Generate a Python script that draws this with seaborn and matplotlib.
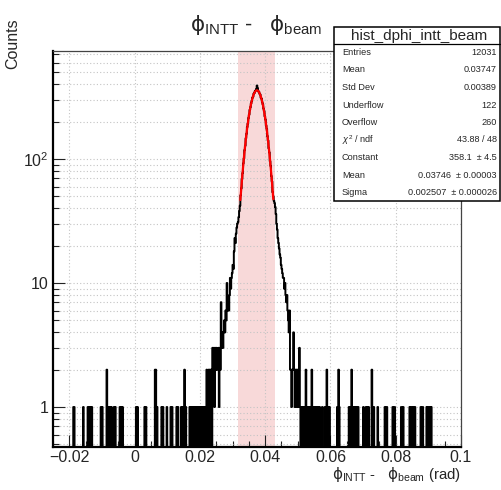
import numpy as np
import pandas as pd
import matplotlib
matplotlib.use("Agg")
import matplotlib.pyplot as plt
import seaborn as sns
from matplotlib.ticker import FixedLocator, FixedFormatter, LogLocator, NullFormatter, MultipleLocator
from matplotlib.patches import Rectangle
from matplotlib.lines import Line2D

# ---------------- data ----------------
bin_lo, bin_hi, n_bins = -0.025, 0.1, 625
core_first_center = 0.0235          # centre of first bin of the core block
core_counts = [
    2, 0, 3, 2, 3, 1, 3, 2, 3, 2,
    2, 3, 1, 3, 2, 7, 3, 4, 3, 4,
    5, 4, 6, 5, 10, 6, 7, 6, 8, 11,
    9, 11, 12, 14, 13, 18, 23, 21, 25, 28,
    30, 31, 34, 38, 42, 51, 58, 69, 77, 92,
    101, 118, 128, 147, 160, 181, 193, 214, 228, 249,
    262, 281, 293, 311, 318, 336, 340, 352, 357, 366,
    391,
    372, 351, 349, 336, 331, 312, 306, 287, 276, 255,
    243, 221, 208, 186, 175, 153, 141, 122, 113, 96,
    88, 73, 66, 54, 50, 46, 44, 41, 36, 30,
    27, 23, 21, 19, 17, 16, 14, 13, 12, 11,
    11, 9, 10, 8, 7, 8, 6, 5, 4, 6,
    2, 2, 1, 2, 2, 4, 2, 1, 2, 2,
    1, 2, 2, 1, 3, 1, 0, 1, 0, 1,
]
left_tail_x = [-0.0187, -0.0185, -0.0157, -0.0143, -0.0139, -0.0135, -0.0131,
               -0.0103, -0.0099, -0.0085, -0.0081, -0.0075, -0.0071, -0.0063, -0.0059,
               -0.0045, -0.0041, -0.0037, 0.0005, 0.0009, 0.0031, 0.0035,
               0.0063, 0.0065, 0.0069, 0.0083, 0.0087, 0.0099, 0.0111, 0.0115,
               0.0129, 0.0133, 0.0143, 0.0147, 0.0153, 0.0157,
               0.0169, 0.0173, 0.0177, 0.0181, 0.0185, 0.0189, 0.0193, 0.0197,
               0.0201, 0.0205, 0.0209, 0.0213, 0.0217, 0.0221, 0.0223, 0.0227,
               0.0231, 0.0233]
left_tail_n = [1, 1, 1, 1, 1, 1, 1,
               1, 1, 2, 1, 1, 1, 1, 1,
               1, 1, 1, 1, 1, 1, 1,
               2, 2, 1, 1, 1, 1, 1, 1,
               1, 1, 1, 1, 2, 1,
               1, 1, 1, 1, 1, 1, 1, 1,
               1, 1, 1, 1, 1, 2, 1, 2,
               2, 1]
right_tail_x = [0.0521, 0.0525, 0.0529, 0.0533, 0.0537, 0.0541, 0.0543, 0.0547,
                0.0551, 0.0555, 0.0559, 0.0563, 0.0567, 0.0575, 0.0583, 0.0589,
                0.0593, 0.0597, 0.0621, 0.0625, 0.0627, 0.0657, 0.0661, 0.0665,
                0.0669, 0.0673, 0.0677, 0.0681, 0.0685, 0.0701, 0.0709, 0.0713,
                0.0717, 0.0727, 0.0733, 0.0745, 0.0767, 0.0773, 0.0791, 0.0797,
                0.0817, 0.0823, 0.0843, 0.0847, 0.0853, 0.0859, 0.0877, 0.0883,
                0.0895, 0.0899, 0.0905, 0.0909]
right_tail_n = [1, 2, 1, 1, 1, 1, 2, 1,
                1, 1, 1, 1, 1, 1, 1, 2,
                1, 1, 1, 2, 1, 1, 1, 2,
                1, 1, 1, 1, 1, 1, 1, 1,
                1, 2, 1, 1, 1, 1, 1, 1,
                1, 1, 1, 1, 1, 1, 1, 1,
                1, 1, 1, 1]

fit_constant, fit_mean, fit_sigma = 358.1, 0.03746, 0.002507
fit_range = (0.0324, 0.0425)
band = (0.0316, 0.0431)

x_ticks = [-0.02, 0, 0.02, 0.04, 0.06, 0.08, 0.1]
x_tick_labels = ["\u22120.02", "0", "0.02", "0.04", "0.06", "0.08", "0.1"]
y_ticks = [1, 10, 100]
y_tick_labels = ["1", "10", r"$10^{2}$"]

stats_title = "hist_dphi_intt_beam"
stats_labels = ["Entries", "Mean", "Std Dev", "Underflow", "Overflow",
                r"$\chi^{2}$ / ndf", "Constant", "Mean", "Sigma"]
stats_values = ["12031", "0.03747", "0.00389", "122", "260", "43.88 / 48",
                "358.1  \u00b1 4.5", "0.03746  \u00b1 0.00003", "0.002507  \u00b1 0.000026"]

title_text = r"$\mathsf{ϕ}_{\mathrm{INTT}}$ -   $\mathsf{ϕ}_{\mathrm{beam}}$"
xlabel_text = r"$\mathsf{ϕ}_{\mathrm{INTT}}$ -   $\mathsf{ϕ}_{\mathrm{beam}}$ (rad)"
ylabel_text = "Counts"

# ---------------- build histogram ----------------
edges = np.linspace(bin_lo, bin_hi, n_bins + 1)
bw = (bin_hi - bin_lo) / n_bins
centers = 0.5 * (edges[:-1] + edges[1:])
counts = np.zeros(n_bins)
i0 = int(round((core_first_center - bin_lo) / bw - 0.5))
counts[i0:i0 + len(core_counts)] = core_counts
for xs, ns in ((left_tail_x, left_tail_n), (right_tail_x, right_tail_n)):
    for xv, nv in zip(xs, ns):
        counts[int(round((xv - bin_lo) / bw - 0.5))] = nv

df = pd.DataFrame({"x": centers, "w": counts})
fx = np.linspace(fit_range[0], fit_range[1], 200)
fy = fit_constant * np.exp(-0.5 * ((fx - fit_mean) / fit_sigma) ** 2)
dfit = pd.DataFrame({"x": fx, "y": fy})

# ---------------- style ----------------
sns.set_style("white")
plt.rcParams["font.family"] = ["Liberation Sans", "DejaVu Sans"]
plt.rcParams["mathtext.fontset"] = "custom"
plt.rcParams["mathtext.rm"] = "Liberation Sans"
plt.rcParams["mathtext.it"] = "Liberation Sans:italic"
plt.rcParams["mathtext.bf"] = "Liberation Sans:bold"
plt.rcParams["mathtext.sf"] = "DejaVu Sans"
plt.rcParams["mathtext.fallback"] = "stixsans"

W, H = 502, 490
def fxp(px): return px / W
def fyp(py): return 1 - py / H

fig = plt.figure(figsize=(W / 100, H / 100), dpi=100)
ax = fig.add_axes([fxp(53), fyp(447), (461 - 53) / W, (447 - 51) / H])

ax.axvspan(band[0], band[1], color="#f8d9d9", lw=0, zorder=0)
sns.histplot(data=df, x="x", weights="w", bins=edges.tolist(), element="step", fill=False,
             color="black", linewidth=1.4, ax=ax, zorder=3)
ax.set_yscale("log")
sns.lineplot(data=dfit, x="x", y="y", color="red", linewidth=1.6, ax=ax,
             zorder=4, sort=False, estimator=None)

ax.set_xlim(bin_lo, bin_hi)
ax.set_ylim(0.476, 743)
ax.set_xlabel("")
ax.set_ylabel("")
ax.set_axisbelow(True)

ax.xaxis.set_major_locator(FixedLocator(x_ticks))
ax.xaxis.set_major_formatter(FixedFormatter(x_tick_labels))
ax.xaxis.set_minor_locator(MultipleLocator(0.005))
ax.yaxis.set_major_locator(FixedLocator(y_ticks))
ax.yaxis.set_major_formatter(FixedFormatter(y_tick_labels))
ax.yaxis.set_minor_locator(LogLocator(base=10, subs=np.arange(2, 10), numticks=20))
ax.yaxis.set_minor_formatter(NullFormatter())

ax.tick_params(which="major", direction="in", length=8.5, width=0.8, labelsize=11.5,
               pad=3, color="#222222", bottom=True, left=True, top=False, right=False)
ax.tick_params(axis="x", which="major", pad=2)
ax.tick_params(which="minor", direction="in", length=4.2, width=0.8, color="#222222",
               bottom=True, left=True, top=False, right=False)

grid_kw = dict(color="#c4c4c4", linestyle=(0, (1, 2)), linewidth=0.8)
ax.grid(True, which="major", axis="x", **grid_kw)
ax.grid(True, which="both", axis="y", **grid_kw)

for s in ("left", "bottom"):
    ax.spines[s].set_linewidth(1.6)
    ax.spines[s].set_color("black")
for s in ("top", "right"):
    ax.spines[s].set_linewidth(0.9)
    ax.spines[s].set_color("#444444")

# titles
fig.text(fxp(256), fyp(31), title_text, ha="center", va="baseline", fontsize=15.5)
fig.text(fxp(461), fyp(479), xlabel_text, ha="right", va="baseline", fontsize=10.8)
fig.text(fxp(13), fyp(18), ylabel_text, rotation=90, ha="center", va="top", fontsize=11.5)

# stats box
bx0, bx1, by0, by1, bsep = 334, 500, 27, 201, 44
fig.add_artist(Rectangle((fxp(bx0), fyp(by1)), (bx1 - bx0) / W, (by1 - by0) / H,
                         transform=fig.transFigure, facecolor="white",
                         edgecolor="black", linewidth=1.1, zorder=10))
fig.add_artist(Line2D([fxp(bx0), fxp(bx1)], [fyp(bsep), fyp(bsep)],
                      transform=fig.transFigure, color="black", linewidth=0.9, zorder=11))
fig.text(fxp((bx0 + bx1) / 2 + 2), fyp(36), stats_title, ha="center", va="center",
         fontsize=11, zorder=12)
for k, (lab, val) in enumerate(zip(stats_labels, stats_values)):
    yy = 52.5 + 17.5 * k
    fig.text(fxp(342), fyp(yy), lab, ha="left", va="center", fontsize=6.6, zorder=12)
    fig.text(fxp(497), fyp(yy), val, ha="right", va="center", fontsize=6.6, zorder=12)

fig.savefig("out.png", dpi=100)
